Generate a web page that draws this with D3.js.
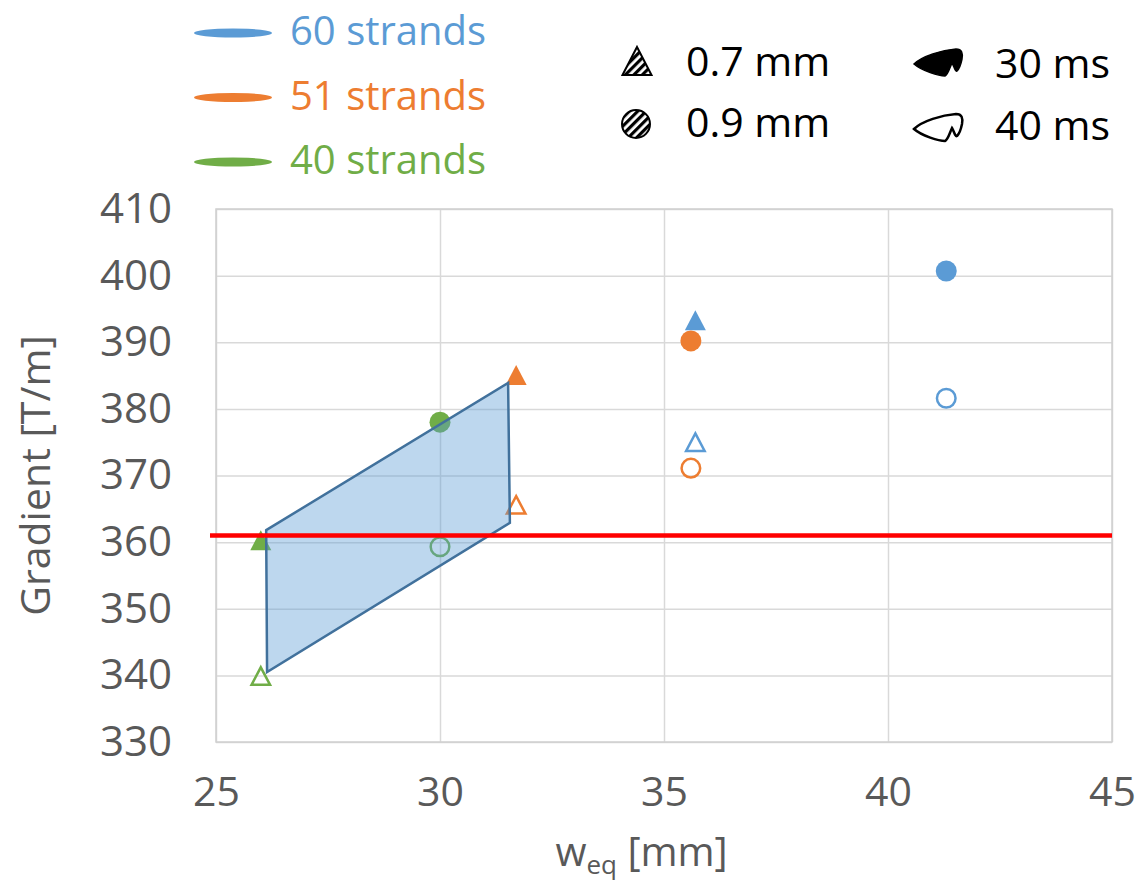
<!DOCTYPE html>
<html>
<head>
<meta charset="utf-8">
<script src="https://cdn.jsdelivr.net/npm/d3@7"></script>
<style>
  body { margin: 0; background: #fff; }
  svg { font-family: "Open Sans", sans-serif; }
</style>
</head>
<body>
<script>
// data
var seriesNames = ["60 strands", "51 strands", "40 strands"];
var seriesColors = ["#5B9BD5", "#ED7D31", "#70AD47"];
// each series: [0.7mm 30ms, 0.7mm 40ms, 0.9mm 30ms, 0.9mm 40ms]
var markerKinds = ["tri", "tri", "circle", "circle"];
var markerFilled = [true, false, true, false];
var weq60 = [35.7, 35.7, 41.3, 41.3];
var grad60 = [393.3, 375.0, 400.7, 381.6];
var weq51 = [31.7, 31.7, 35.6, 35.6];
var grad51 = [385.1, 365.6, 390.2, 371.1];
var weq40 = [26.0, 26.0, 30.0, 30.0];
var grad40 = [360.3, 339.9, 378.0, 359.3];
var regionWeq = [26.12, 31.52, 31.56, 26.14];
var regionGrad = [361.8, 383.9, 362.9, 340.5];
var targetGrad = 361;
var xTicks = [25, 30, 35, 40, 45];
var yTicks = [330, 340, 350, 360, 370, 380, 390, 400, 410];

var W = 1142, H = 884;
var margin = {top: 209, right: 30, bottom: 142, left: 216};
var width = W - margin.left - margin.right;
var height = H - margin.top - margin.bottom;

var svg = d3.select("body").append("svg")
    .attr("width", W)
    .attr("height", H);

var defs = svg.append("defs");
var pat = defs.append("pattern")
    .attr("id", "hatch")
    .attr("patternUnits", "userSpaceOnUse")
    .attr("width", 6).attr("height", 6)
    .attr("patternTransform", "rotate(45)");
pat.append("rect").attr("width", 6).attr("height", 6).attr("fill", "#fff");
pat.append("rect").attr("width", 3.2).attr("height", 6).attr("fill", "#000");

var x = d3.scaleLinear().domain([25, 45]).range([0, width]);
var y = d3.scaleLinear().domain([330, 410]).range([height, 0]);

var g = svg.append("g")
    .attr("transform", "translate(" + margin.left + "," + margin.top + ")");

// grid
g.append("g")
    .attr("class", "grid")
    .call(d3.axisLeft(y).tickValues(yTicks).tickSize(-width).tickFormat(""))
    .call(function(s) { s.select(".domain").remove(); });
g.append("g")
    .attr("class", "grid")
    .attr("transform", "translate(0," + height + ")")
    .call(d3.axisBottom(x).tickValues(xTicks).tickSize(-height).tickFormat(""))
    .call(function(s) { s.select(".domain").remove(); });
g.selectAll(".grid line").attr("stroke", "#d9d9d9").attr("stroke-width", 1.5);

g.append("rect")
    .attr("width", width).attr("height", height)
    .attr("fill", "none")
    .attr("stroke", "#d0d0d0").attr("stroke-width", 1.5);

// tick labels
var yAxis = g.append("g")
    .call(d3.axisLeft(y).tickValues(yTicks).tickSize(0).tickPadding(44));
yAxis.select(".domain").remove();
yAxis.selectAll("text")
    .attr("fill", "#595959")
    .style("font-size", "42px")
    .style("font-family", "Open Sans");

var xAxis = g.append("g")
    .attr("transform", "translate(0," + height + ")")
    .call(d3.axisBottom(x).tickValues(xTicks).tickSize(0).tickPadding(35));
xAxis.select(".domain").remove();
xAxis.selectAll("text")
    .attr("fill", "#595959")
    .style("font-size", "41px")
    .style("font-family", "Open Sans");

// axis titles
svg.append("text")
    .attr("transform", "translate(50," + (margin.top + height / 2) + ") rotate(-90)")
    .attr("text-anchor", "middle")
    .attr("fill", "#595959")
    .style("font-size", "41px")
    .text("Gradient [T/m]");

var xt = svg.append("text")
    .attr("x", margin.left + x(34.5))
    .attr("y", 866)
    .attr("text-anchor", "middle")
    .attr("fill", "#595959")
    .style("font-size", "40px");
xt.append("tspan").text("w");
xt.append("tspan").attr("dy", 8).style("font-size", "26px").text("eq");
xt.append("tspan").attr("dy", -8).text(" [mm]");

// markers
function triPath(w, h) {
    return "M0," + (-h / 2) + "L" + (w / 2) + "," + (h / 2) + "L" + (-w / 2) + "," + (h / 2) + "Z";
}

var allX = [weq60, weq51, weq40];
var allY = [grad60, grad51, grad40];
var points = [];
seriesNames.forEach(function(name, si) {
    allX[si].forEach(function(v, i) {
        points.push({x: v, y: allY[si][i], color: seriesColors[si], kind: markerKinds[i], filled: markerFilled[i]});
    });
});

var pts = g.selectAll(".pt")
    .data(points)
    .enter().append("g")
    .attr("class", "pt")
    .attr("transform", function(d) { return "translate(" + x(d.x) + "," + y(d.y) + ")"; });

pts.each(function(d) {
    var el = d3.select(this);
    var shape;
    if (d.kind === "circle") {
        shape = el.append("circle").attr("r", d.filled ? 10.5 : 9.3);
    } else {
        shape = el.append("path").attr("d", d.filled ? triPath(21, 20) : triPath(18.5, 17.5));
    }
    if (d.filled) {
        shape.attr("fill", d.color);
    } else {
        shape.attr("fill", "none").attr("stroke", d.color).attr("stroke-width", 2.5);
    }
});

// shaded region
g.append("path")
    .datum(regionWeq.map(function(v, i) { return [v, regionGrad[i]]; }))
    .attr("d", d3.line().x(function(d) { return x(d[0]); }).y(function(d) { return y(d[1]); }).curve(d3.curveLinearClosed))
    .attr("fill", "#5B9BD5")
    .attr("fill-opacity", 0.4)
    .attr("stroke", "#41719C")
    .attr("stroke-width", 2.5)
    .attr("stroke-linejoin", "miter");

// target line
g.append("line")
    .attr("x1", -6).attr("x2", width)
    .attr("y1", y(targetGrad)).attr("y2", y(targetGrad))
    .attr("stroke", "#FF0000")
    .attr("stroke-width", 4.5);

// legend: series
var leg = svg.append("g");
seriesNames.forEach(function(name, i) {
    var cy = 33 + i * 64.5;
    leg.append("ellipse")
        .attr("cx", 233).attr("cy", cy)
        .attr("rx", 39).attr("ry", 4.5)
        .attr("fill", seriesColors[i]);
    leg.append("text")
        .attr("x", 290).attr("y", cy + 12)
        .attr("fill", seriesColors[i])
        .style("font-size", "40px")
        .text(name);
});

// legend: wire diameter / time
var wireLabels = ["0.7 mm", "0.9 mm"];
var timeLabels = ["30 ms", "40 ms"];
var leg2 = svg.append("g");
leg2.append("path")
    .attr("transform", "translate(637,61)")
    .attr("d", triPath(29, 28))
    .attr("fill", "url(#hatch)")
    .attr("stroke", "#000").attr("stroke-width", 2);
leg2.append("circle")
    .attr("cx", 636).attr("cy", 124).attr("r", 14)
    .attr("fill", "url(#hatch)")
    .attr("stroke", "#000").attr("stroke-width", 2);
wireLabels.forEach(function(t, i) {
    leg2.append("text")
        .attr("x", 686).attr("y", 76 + i * 61)
        .attr("fill", "#000")
        .style("font-size", "41px")
        .text(t);
});

var blob = "M0,17 C8,9 28,3 42,2 C48,2 49,6 48,12 C47,17 45,22 43,24 C41,25 40,19 38,16 C36,20 34,28 31,29 C25,29 8,24 0,17 Z";
leg2.append("path")
    .attr("transform", "translate(914,47)")
    .attr("d", blob)
    .attr("fill", "#000").attr("stroke", "#000").attr("stroke-width", 1.5);
leg2.append("path")
    .attr("transform", "translate(914,112)")
    .attr("d", blob)
    .attr("fill", "#fff").attr("stroke", "#000").attr("stroke-width", 2.5);
timeLabels.forEach(function(t, i) {
    leg2.append("text")
        .attr("x", 995).attr("y", 78 + i * 62)
        .attr("fill", "#000")
        .style("font-size", "41px")
        .text(t);
});
</script>
</body>
</html>
